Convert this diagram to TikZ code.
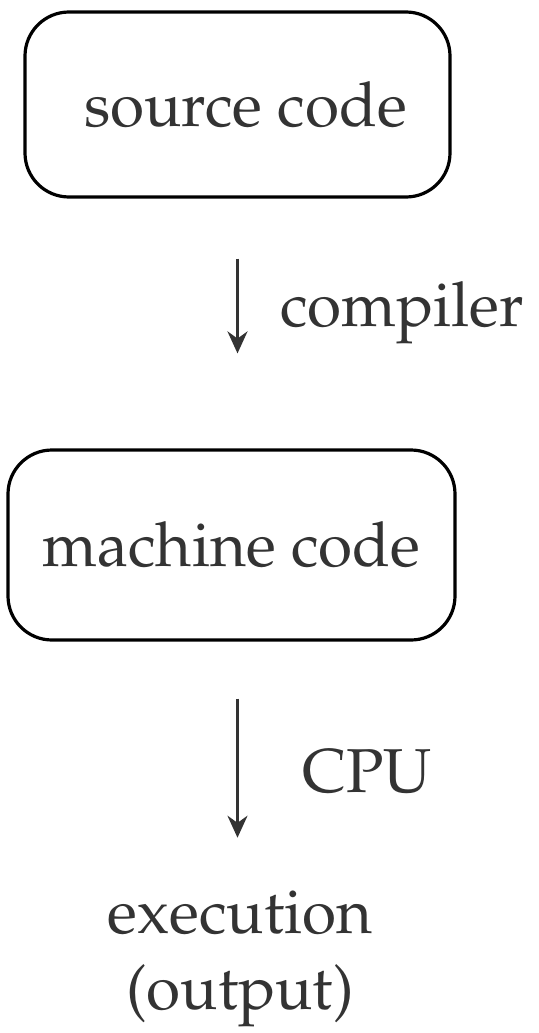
\documentclass[tikz,border=0pt]{standalone}
\usepackage[T1]{fontenc}
\usepackage{mathpazo}
\usepackage{xcolor}
\usepackage{tikz}
\usetikzlibrary{arrows.meta,positioning}

\definecolor{inkgray}{gray}{0.2}
\tikzset{
  codebox/.style={draw=black,line width=1.6pt,rounded corners=22pt,
    text=inkgray,font=\fontsize{31}{38}\selectfont},
  steplabel/.style={text=inkgray,font=\fontsize{31}{38}\selectfont},
  flow/.style={-{Stealth[length=11pt,width=10pt]},line width=1.4pt,draw=inkgray}
}

\begin{document}
\begin{tikzpicture}[x=0.5pt,y=-0.5pt]
\useasboundingbox (0,0) rectangle (539,1033);
\node[codebox,minimum width=212.5pt,minimum height=92.5pt] (src) at (237.5,104.5) {\hspace*{8pt}source code};
\node[codebox,minimum width=223.5pt,minimum height=95pt] (mach) at (231.5,545) {machine code};
\node[steplabel,align=center] (out) at (240,959) {execution\\(output)};
\node[steplabel] (comp) at (402,313) {compiler};
\node[steplabel] (cpu) at (367,772) {CPU};
\draw[flow,shorten <=30pt,shorten >=47.5pt] (src.south) -- (src.south |- mach.north);
\draw[flow,shorten <=28.5pt,shorten >=23pt] (src.south |- mach.south) -- (src.south |- out.north);
\end{tikzpicture}
\end{document}
